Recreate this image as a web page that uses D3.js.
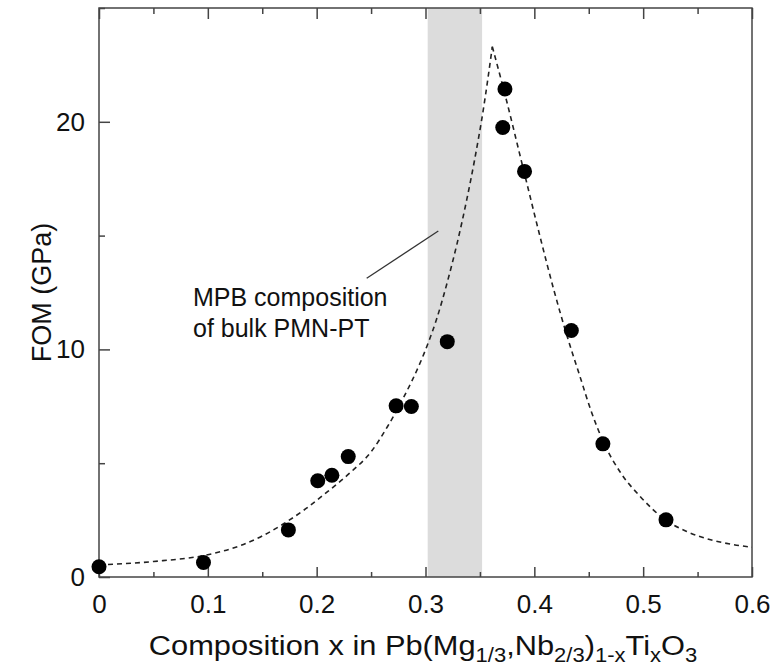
<!DOCTYPE html>
<html>
<head>
<meta charset="utf-8">
<script src="https://cdn.jsdelivr.net/npm/d3@7"></script>
<style>
  body { margin: 0; background: #fff; }
  text { font-family: "Liberation Sans", Arial, Helvetica, sans-serif; fill: #111; }
</style>
</head>
<body>
<div class="canvas"></div>
<script>
// measured points
const compX = [0, 0.096, 0.174, 0.201, 0.214, 0.229, 0.273, 0.287, 0.320, 0.371, 0.373, 0.391, 0.434, 0.463, 0.521];
const fomY = [0.45, 0.64, 2.07, 4.23, 4.47, 5.29, 7.52, 7.49, 10.34, 19.75, 21.44, 17.82, 10.83, 5.85, 2.51];

// dashed guide curve (two branches meeting at the cusp)
const leftX = [0, 0.05, 0.10, 0.13, 0.15, 0.17, 0.19, 0.21, 0.23, 0.25, 0.265, 0.28, 0.295, 0.303, 0.31, 0.32, 0.329, 0.338, 0.345, 0.353, 0.3614];
const leftY = [0.53, 0.68, 0.98, 1.38, 1.8, 2.35, 3.0, 3.75, 4.55, 5.5, 6.6, 7.9, 9.4, 10.35, 11.3, 12.95, 14.65, 16.6, 18.3, 20.5, 23.3];
const rightX = [0.3614, 0.3725, 0.3908, 0.405, 0.418, 0.430, 0.442, 0.4525, 0.4628, 0.479, 0.497, 0.5207, 0.540, 0.565, 0.583, 0.6];
const rightY = [23.3, 21.3, 17.75, 15.0, 12.6, 10.6, 8.8, 7.25, 6.0, 4.6, 3.55, 2.5, 2.0, 1.6, 1.42, 1.31];

// MPB band
const mpbBand = [0.302, 0.352];

const xMajor = [0, 0.1, 0.2, 0.3, 0.4, 0.5, 0.6];
const xMinor = [0.05, 0.15, 0.25, 0.35, 0.45, 0.55];
const yMajor = [0, 10, 20];
const yMinor = [5, 15, 25];

const W = 774, H = 666;
const m = { top: 8, right: 22, bottom: 89, left: 99 };
const w = W - m.left - m.right;
const h = H - m.top - m.bottom;

const svg = d3.select('.canvas')
  .append('svg')
  .attr('width', W)
  .attr('height', H);

const graph = svg.append('g')
  .attr('transform', `translate(${m.left}, ${m.top})`);

const x = d3.scaleLinear().domain([0, 0.6]).range([0, w]);
const y = d3.scaleLinear().domain([0, 25]).range([h, 0]);

graph.append('rect')
  .attr('x', x(mpbBand[0]))
  .attr('y', 0)
  .attr('width', x(mpbBand[1]) - x(mpbBand[0]))
  .attr('height', h)
  .attr('fill', '#dcdcdc');

// axes: ticks point inward
const fmt = d => d === 0 ? '0' : d3.format('.1f')(d);

const addTicks = (axis, vals, len, labels) => axis.tickValues(vals).tickSize(len).tickSizeOuter(0)
  .tickFormat(labels ? null : '');

const styleAxis = g => {
  g.select('.domain').remove();
  g.selectAll('line').attr('stroke', '#444').attr('stroke-width', 1.5);
};

graph.append('g')
  .attr('transform', `translate(0, ${h})`)
  .call(addTicks(d3.axisBottom(x), xMajor, -10, true).tickFormat(fmt).tickPadding(18))
  .call(styleAxis)
  .call(g => g.selectAll('text').attr('font-size', 26).attr('fill', '#111'));
graph.append('g')
  .attr('transform', `translate(0, ${h})`)
  .call(addTicks(d3.axisBottom(x), xMinor, -5, false))
  .call(styleAxis);
graph.append('g')
  .call(addTicks(d3.axisTop(x), xMajor, -11, false))
  .call(styleAxis);
graph.append('g')
  .call(addTicks(d3.axisTop(x), xMinor, -6, false))
  .call(styleAxis);

graph.append('g')
  .call(addTicks(d3.axisLeft(y), yMajor, -11, true).tickFormat(d3.format('d')).tickPadding(14))
  .call(styleAxis)
  .call(g => g.selectAll('text').attr('font-size', 26).attr('fill', '#111'));
graph.append('g')
  .call(addTicks(d3.axisLeft(y), yMinor, -6, false))
  .call(styleAxis);

// frame
graph.append('rect')
  .attr('width', w)
  .attr('height', h)
  .attr('fill', 'none')
  .attr('stroke', '#444')
  .attr('stroke-width', 1.5);

// dashed curve
const line = d3.line()
  .x(d => x(d[0]))
  .y(d => y(d[1]))
  .curve(d3.curveMonotoneX);

[d3.zip(leftX, leftY), d3.zip(rightX, rightY)].forEach(pts => {
  graph.append('path')
    .attr('d', line(pts))
    .attr('fill', 'none')
    .attr('stroke', '#222')
    .attr('stroke-width', 1.6)
    .attr('stroke-dasharray', '5,4');
});

graph.selectAll('circle.pt')
  .data(d3.zip(compX, fomY))
  .join('circle')
  .attr('class', 'pt')
  .attr('cx', d => x(d[0]))
  .attr('cy', d => y(d[1]))
  .attr('r', 7.5)
  .attr('fill', '#000');

// annotation
graph.append('line')
  .attr('x1', 267.7).attr('y1', 270.3)
  .attr('x2', 339.3).attr('y2', 223)
  .attr('stroke', '#333')
  .attr('stroke-width', 1.3);

const note = graph.append('text')
  .attr('font-size', 25);
note.append('tspan').attr('x', 94).attr('y', 298).text('MPB composition');
note.append('tspan').attr('x', 94).attr('y', 329).text('of bulk PMN-PT');

// axis titles
svg.append('text')
  .attr('transform', `translate(51, ${m.top + h / 2}) rotate(-90)`)
  .attr('text-anchor', 'middle')
  .attr('font-size', 27)
  .text('FOM (GPa)');

const xt = svg.append('text')
  .attr('transform', 'translate(423, 655) scale(1.1, 1)')
  .attr('text-anchor', 'middle')
  .attr('font-size', 28);
const sub = (s) => xt.append('tspan').attr('font-size', 20).attr('dy', 7).text(s);
const base = (s) => xt.append('tspan').attr('dy', -7).text(s);
xt.append('tspan').text('Composition x in Pb(Mg');
sub('1/3');
base(',Nb');
sub('2/3');
base(')');
sub('1-x');
base('Ti');
sub('x');
base('O');
sub('3');
</script>
</body>
</html>
